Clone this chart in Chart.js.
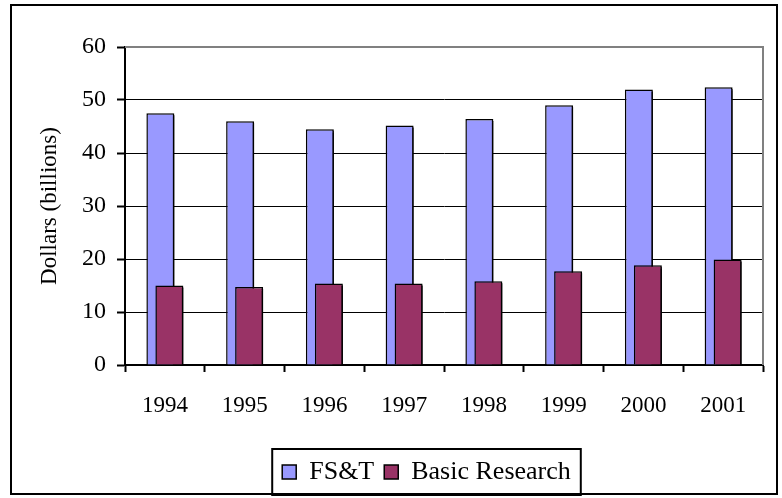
<!DOCTYPE html>
<html>
<head>
<meta charset="utf-8">
<script src="https://cdn.jsdelivr.net/npm/chart.js@4.4.1/dist/chart.umd.min.js"></script>
<style>
  html, body { margin: 0; padding: 0; background: #fff; }
  #wrap { width: 782px; height: 498px; position: relative; }
</style>
</head>
<body>
<div id="wrap"><canvas id="chart" width="782" height="498"></canvas></div>
<script>
let years = ['1994', '1995', '1996', '1997', '1998', '1999', '2000', '2001'];
let fstValues = [47.5, 46.0, 44.5, 45.2, 46.4, 49.0, 52.0, 52.4];
let basicValues = [15.0, 14.7, 15.4, 15.4, 15.8, 17.7, 18.8, 19.9];
let yTicks = [0, 10, 20, 30, 40, 50, 60];

let serif = "'Liberation Serif', 'Times New Roman', serif";

// frames, bar shadows, and FS&T drawn behind Basic Research
let framePlugin = {
  id: 'frames',
  afterLayout(chart) {
    // legend sits a bit right of the centre in the original
    chart.legend.left += 27;
    chart.legend.right += 27;
  },
  beforeDatasetsDraw(chart) {
    let ctx = chart.ctx;
    ctx.save();
    ctx.shadowColor = '#000';
    ctx.shadowOffsetX = 2;
    ctx.shadowOffsetY = 2;
    ctx.shadowBlur = 0;
    chart.getDatasetMeta(0).controller.draw();
  },
  beforeDatasetDraw(chart, args) {
    if (args.index === 0) return false;
  },
  afterDatasetsDraw(chart) {
    chart.ctx.restore();
  },
  afterDraw(chart) {
    let ctx = chart.ctx;
    let area = chart.chartArea;
    ctx.save();
    ctx.strokeStyle = '#808080';
    ctx.lineWidth = 2;
    ctx.beginPath();
    ctx.moveTo(area.left, area.top);
    ctx.lineTo(area.right, area.top);
    ctx.lineTo(area.right, area.bottom);
    ctx.stroke();

    ctx.strokeStyle = '#000';
    ctx.lineWidth = 2;
    ctx.strokeRect(11, 5, 766, 489);

    let boxes = chart.legend.legendHitBoxes;
    if (boxes && boxes.length) {
      let left = Math.min(...boxes.map(b => b.left)) - 10;
      let right = Math.max(...boxes.map(b => b.left + b.width)) + 10;
      ctx.strokeRect(left, chart.legend.top, right - left, chart.legend.bottom - chart.legend.top);
    }
    ctx.restore();
  }
};

new Chart(document.getElementById('chart'), {
  type: 'bar',
  data: {
    labels: years,
    datasets: [{
      label: 'FS&T',
      data: fstValues,
      backgroundColor: '#9999FF',
      borderColor: '#000',
      borderWidth: 1.5,
      categoryPercentage: 0.2257,
      barPercentage: 3.11
    }, {
      label: 'Basic Research',
      data: basicValues,
      backgroundColor: '#993366',
      borderColor: '#000',
      borderWidth: 1.5,
      categoryPercentage: 0.2257,
      barPercentage: 3.11
    }]
  },
  options: {
    responsive: false,
    animation: false,
    events: [],
    layout: { padding: { left: 36, top: 47, right: 19, bottom: 3 } },
    plugins: {
      tooltip: { enabled: false },
      legend: {
        position: 'bottom',
        labels: {
          color: '#000',
          font: { family: serif, size: 26 },
          boxWidth: 14,
          boxHeight: 14,
          padding: 10
        }
      }
    },
    scales: {
      x: {
        afterFit(scale) { scale.height = 84; },
        border: { color: '#000', width: 2 },
        grid: {
          offset: true,
          drawOnChartArea: false,
          drawTicks: true,
          tickLength: 7,
          tickColor: '#000',
          tickWidth: 2
        },
        ticks: {
          color: '#000',
          font: { family: serif, size: 23 },
          padding: 20
        }
      },
      y: {
        min: 0,
        max: 60,
        afterFit(scale) { scale.width = 89; },
        afterBuildTicks(scale) { scale.ticks = yTicks.map(v => ({ value: v })); },
        border: { color: '#000', width: 2 },
        grid: {
          color: ctx => (ctx.tick && ctx.tick.value === 60) ? '#808080' : '#000',
          lineWidth: 1,
          drawTicks: true,
          tickLength: 8,
          tickColor: '#000',
          tickWidth: 2
        },
        ticks: {
          color: '#000',
          font: { family: serif, size: 24 },
          padding: 11
        },
        title: {
          display: true,
          text: 'Dollars (billions)',
          color: '#000',
          font: { family: serif, size: 23 },
          padding: 0
        }
      }
    }
  },
  plugins: [framePlugin]
});
</script>
</body>
</html>
